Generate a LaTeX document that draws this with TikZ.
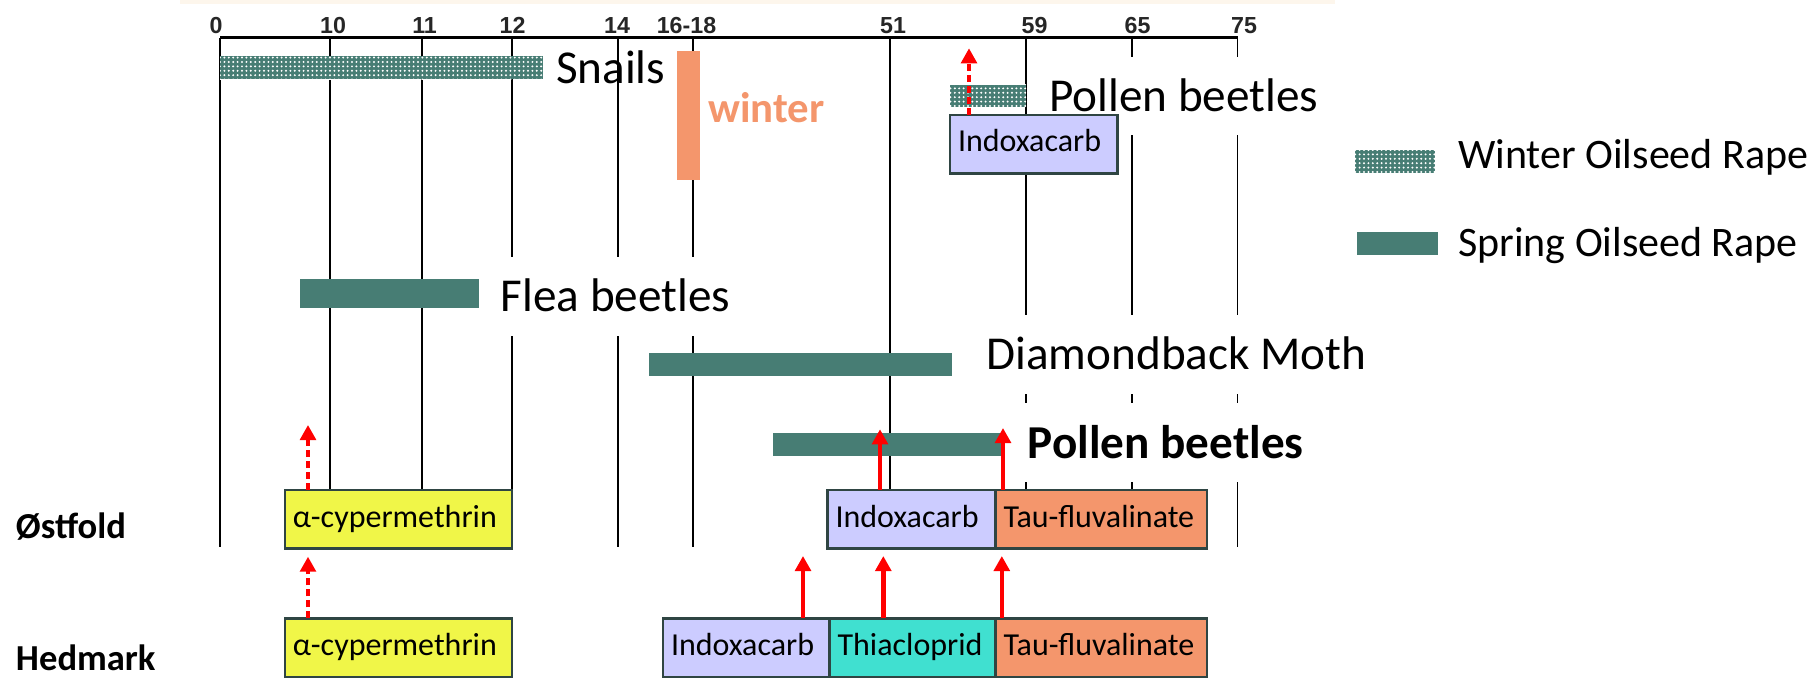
\documentclass[tikz,border=0pt]{standalone}
\usepackage{fontspec}
\setmainfont{Carlito}
\newfontfamily\axisfont{Liberation Sans}
\usepackage{tikz}
\usetikzlibrary{arrows.meta, positioning, patterns.meta}
\usepackage{xcolor}
\definecolor{rapeteal}{RGB}{71,125,116}
\definecolor{lavender}{RGB}{204,204,255}
\definecolor{salmon}{RGB}{244,150,108}
\definecolor{lemon}{RGB}{240,246,72}
\definecolor{turq}{RGB}{64,224,208}
\definecolor{slate}{RGB}{47,69,67}
\definecolor{cream}{RGB}{253,246,236}
\tikzstyle{drug} = [rectangle, draw=slate, line width=1.2pt, outer sep=0pt, inner xsep=4pt, inner ysep=0pt, minimum height=29.3pt, text height=11.3pt, text depth=3.6pt, align=left, font=\fontsize{16}{19}\selectfont]
\tikzstyle{pest} = [fill=white, inner xsep=6pt, inner ysep=0pt, text height=27.5pt, text depth=11.8pt, anchor=base west, font=\fontsize{23.6}{28}\selectfont]
\tikzstyle{legendtext} = [anchor=base west, inner sep=0pt, font=\fontsize{21}{25}\selectfont]
\tikzstyle{axislabel} = [anchor=base, inner sep=0pt, text=black!85, font=\axisfont\bfseries\fontsize{11.6}{13}\selectfont]
\tikzstyle{regionlabel} = [anchor=base west, inner sep=0pt, font=\bfseries\fontsize{18.3}{22}\selectfont]
\tikzstyle{springbar} = [fill=rapeteal]
\tikzstyle{winterbar} = [fill=rapeteal, postaction={pattern={Dots[distance=2.2pt, radius=0.55pt]}, pattern color=white}]
\tikzstyle{spray} = [red, line width=2.2pt, -{Triangle[width=7.8pt, length=7.5pt]}]
\tikzstyle{sprayhint} = [spray, dash pattern=on 3.5pt off 2pt]

\begin{document}
\begin{tikzpicture}[x=0.5pt, y=-0.5pt]
  \useasboundingbox (0,0) rectangle (1818,678);
  \fill[white] (0,0) rectangle (1818,678);
  \fill[cream] (180,0) rectangle (1335,4);

  % Growth stage axis
  \draw[line width=1.3pt] (220,37.7) -- (1237.5,37.7);
  \draw[line width=0.9pt] (220,37.7) -- (220,546.7);
  \draw[line width=0.9pt] (330,37.7) -- (330,546.7);
  \draw[line width=0.9pt] (421.7,37.7) -- (421.7,546.7);
  \draw[line width=0.9pt] (511.6,37.7) -- (511.6,546.7);
  \draw[line width=0.9pt] (617.7,37.7) -- (617.7,546.7);
  \draw[line width=0.9pt] (692.7,37.7) -- (692.7,546.7);
  \draw[line width=0.9pt] (890.2,37.7) -- (890.2,546.7);
  \draw[line width=0.9pt] (1026.3,37.7) -- (1026.3,546.7);
  \draw[line width=0.9pt] (1131.7,37.7) -- (1131.7,546.7);
  \draw[line width=0.9pt] (1237.5,37.7) -- (1237.5,546.7);
  \node[axislabel] (t0) at (216,33.3) {0};
  \node[axislabel] (t10) at (333,33.3) {10};
  \node[axislabel] (t11) at (424.6,33.3) {11};
  \node[axislabel] (t12) at (512.6,33.3) {12};
  \node[axislabel] (t14) at (617,33.3) {14};
  \node[axislabel] (t16) at (686.5,33.3) {16-18};
  \node[axislabel] (t51) at (893,33.3) {51};
  \node[axislabel] (t59) at (1034.6,33.3) {59};
  \node[axislabel] (t65) at (1137.5,33.3) {65};
  \node[axislabel] (t75) at (1244,33.3) {75};

  % Pest periods
  \path[winterbar] (220,56) rectangle (543,79.3);
  \fill[salmon] (677.4,51) rectangle (700,180);
  \path[winterbar] (950,85) rectangle (1026,107.3);
  \path[springbar] (300,279) rectangle (479,307.7);
  \path[springbar] (649,353) rectangle (952,375.7);
  \path[springbar] (773,433.3) rectangle (1002.5,455.7);
  \node[pest, fill=none] (snails) at (543.7,83.3) {Snails};
  \node[anchor=base west, inner sep=0pt, text=salmon, font=\bfseries\fontsize{21.4}{25}\selectfont] (winter) at (708,123) {winter};
  \node[pest] (wpollen) at (1036.7,111.7) {Pollen beetles};
  \node[pest] (flea) at (488.4,312) {Flea beetles};
  \node[pest] (dbm) at (974,370) {Diamondback Moth};
  \node[pest, font=\bfseries\fontsize{23.6}{28}\selectfont] (spollen) at (1015.5,458) {Pollen beetles};

  % Legend
  \path[winterbar] (1354.5,150) rectangle (1435.3,173.3);
  \node[legendtext] (lwinter) at (1457.8,168.3) {Winter Oilseed Rape};
  \path[springbar] (1357,232.3) rectangle (1438,255);
  \node[legendtext] (lspring) at (1457.8,256.7) {Spring Oilseed Rape};

  % Regions and insecticides
  \node[regionlabel] (ostfold) at (15.6,538) {Østfold};
  \node[regionlabel] (hedmark) at (15.6,670) {Hedmark};
  \node[drug, fill=lavender, anchor=north west, text width=75.7pt] (tindo) at (950,115) {Indoxacarb};
  \node[drug, fill=lemon, anchor=north west, text width=105.5pt] (ocyp) at (284.8,490) {α-cypermethrin};
  \node[drug, fill=lavender, anchor=north west, text width=76pt] (oindo) at (827.5,490) {Indoxacarb};
  \node[drug, fill=salmon, right=0pt of oindo, text width=97.6pt] (otau) {Tau-fluvalinate};
  \node[drug, fill=lemon, anchor=north west, text width=105.5pt] (hcyp) at (284.8,618.3) {α-cypermethrin};
  \node[drug, fill=lavender, anchor=north west, text width=75.3pt] (hindo) at (663,618.3) {Indoxacarb};
  \node[drug, fill=turq, right=0pt of hindo, text width=75pt] (hthia) {Thiacloprid};
  \node[drug, fill=salmon, right=0pt of hthia, text width=97.6pt] (htau) {Tau-fluvalinate};

  % Spray timing
  \coordinate (wptip) at (969,48.3);
  \coordinate (ocyptip) at (308,425);
  \coordinate (hcyptip) at (308,556.7);
  \coordinate (oinditip) at (880,429.3);
  \coordinate (otautip) at (1003,428);
  \coordinate (hinditip) at (803,556);
  \coordinate (hthiatip) at (883.3,556);
  \coordinate (htautip) at (1001.8,556);
  \draw[sprayhint] (tindo.north -| wptip) -- (wptip);
  \draw[sprayhint] (ocyp.north -| ocyptip) -- (ocyptip);
  \draw[sprayhint] (hcyp.north -| hcyptip) -- (hcyptip);
  \draw[spray] (oindo.north -| oinditip) -- (oinditip);
  \draw[spray] (otau.north -| otautip) -- (otautip);
  \draw[spray] (hindo.north -| hinditip) -- (hinditip);
  \draw[spray] (hthia.north -| hthiatip) -- (hthiatip);
  \draw[spray] (htau.north -| htautip) -- (htautip);
\end{tikzpicture}
\end{document}
